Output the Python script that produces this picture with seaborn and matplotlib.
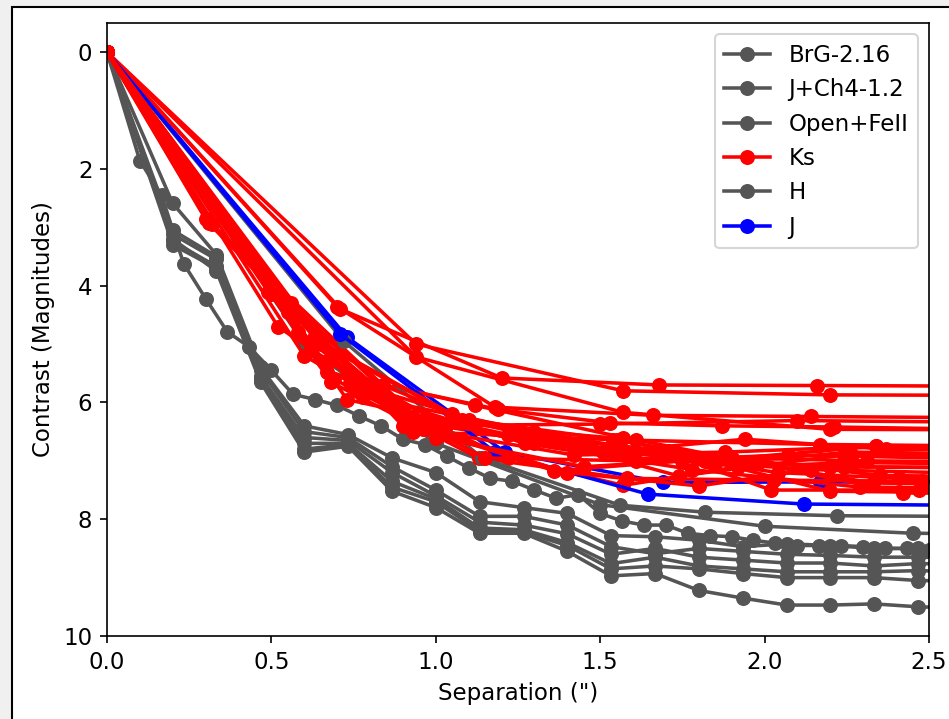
import matplotlib
matplotlib.use("Agg")
import matplotlib.pyplot as plt
import matplotlib.patches as mpatches
from matplotlib.lines import Line2D
import seaborn as sns
import pandas as pd

GRAY = "#555555"
RED = "#ff0000"
BLUE = "#0000ff"

# ---- data ----------------------------------------------------------------
# Gray lines on the 0.133" grid (H filter)
h_x = [0, 0.2, 0.333, 0.467, 0.6, 0.733, 0.867, 1.0, 1.133, 1.267, 1.4, 1.533,
       1.667, 1.8, 1.933, 2.067, 2.2, 2.333, 2.467, 2.6]
h1_y = [0, 2.59, 3.47, 5.40, 6.40, 6.55, 6.95, 7.20, 7.70, 7.80, 7.90, 8.28, 8.30, 8.36, 8.47, 8.42, 8.45, 8.50, 8.50, 8.52]
h2_y = [0, 3.05, 3.50, 5.45, 6.50, 6.60, 7.10, 7.50, 7.95, 7.95, 8.10, 8.47, 8.59, 8.50, 8.55, 8.60, 8.62, 8.65, 8.65, 8.66]
h3_y = [0, 3.12, 3.55, 5.55, 6.60, 6.65, 7.20, 7.60, 8.05, 8.10, 8.25, 8.60, 8.50, 8.65, 8.70, 8.75, 8.75, 8.80, 8.76, 8.77]
h4_y = [0, 3.24, 3.67, 5.60, 6.70, 6.70, 7.35, 7.65, 8.15, 8.18, 8.40, 8.76, 8.65, 8.80, 8.85, 8.90, 8.90, 8.90, 8.88, 8.90]
h5_y = [0, 3.30, 3.70, 5.62, 6.80, 6.72, 7.45, 7.70, 8.20, 8.22, 8.45, 8.85, 8.80, 8.85, 8.93, 9.00, 9.00, 9.00, 9.05, 9.06]
h6_y = [0, 3.20, 3.75, 5.65, 6.85, 6.75, 7.52, 7.80, 8.24, 8.24, 8.55, 8.97, 8.93, 9.22, 9.35, 9.47, 9.47, 9.45, 9.50, 9.52]

# Finely sampled gray line (Open+FeII)
fine_x = [0, 0.1, 0.166, 0.233, 0.3, 0.366, 0.433, 0.5, 0.566, 0.633, 0.7, 0.766, 0.833,
          0.9, 0.966, 1.033, 1.1, 1.166, 1.233, 1.3, 1.366, 1.433, 1.5, 1.566, 1.633,
          1.7, 1.766, 1.833, 1.9, 1.966, 2.033, 2.1, 2.166, 2.233, 2.3, 2.366, 2.433,
          2.5, 2.566]
fine_y = [0, 1.86, 2.45, 3.62, 4.22, 4.79, 5.05, 5.45, 5.86, 5.95, 6.05, 6.23, 6.40,
          6.63, 6.72, 6.92, 7.12, 7.30, 7.35, 7.50, 7.64, 7.58, 7.90, 8.03, 8.10,
          8.10, 8.24, 8.28, 8.30, 8.36, 8.41, 8.45, 8.45, 8.45, 8.47, 8.50, 8.50,
          8.53, 8.55]

# Sparse gray lines (BrG-2.16, J+Ch4-1.2)
brg_x = [0, 0.6, 1.0, 1.5, 2.0, 2.45, 2.9]
brg_y = [0, 5.0, 6.7, 7.75, 8.12, 8.24, 8.26]
jch4_x = [0, 0.72, 1.14, 1.56, 1.82, 2.22, 2.9]
jch4_y = [0, 4.95, 6.95, 7.76, 7.88, 7.94, 7.96]

# Ks (red) lines
ks_x = [
    [0, 0.71, 1.20, 1.68, 2.16, 2.64],
    [0, 0.94, 1.57, 2.20, 2.83],
    [0, 0.94, 1.57, 2.20, 2.83],
    [0, 0.70, 1.18, 1.66, 2.14, 2.62],
    [0, 0.30, 0.90, 1.50, 2.10, 2.70],
    [0, 0.31, 0.93, 1.55, 2.17, 2.79],
    [0, 0.49, 0.84, 1.19, 1.53, 1.87, 2.21, 2.56],
    [0, 0.53, 0.89, 1.25, 1.61, 1.97, 2.33, 2.69],
    [0, 0.52, 0.87, 1.22, 1.57, 1.92, 2.27, 2.62],
    [0, 0.67, 1.12, 1.57, 2.02, 2.47, 2.92],
    [0, 0.68, 1.13, 1.58, 2.03, 2.48, 2.93],
    [0, 0.32, 0.96, 1.60, 2.24, 2.88],
    [0, 0.56, 0.93, 1.30, 1.67, 2.04, 2.41, 2.78],
]
ks_y = [
    [0, 4.40, 5.58, 5.70, 5.71, 5.72],
    [0, 5.00, 5.80, 5.87, 5.88],
    [0, 5.22, 6.17, 6.46, 6.47],
    [0, 4.36, 6.08, 6.22, 6.24, 6.26],
    [0, 2.86, 6.40, 6.37, 6.31, 6.34],
    [0, 2.93, 6.50, 6.64, 6.72, 6.75],
    [0, 4.10, 5.70, 6.12, 6.35, 6.40, 6.42, 6.45],
    [0, 4.22, 6.20, 6.47, 6.64, 7.04, 7.38, 7.40],
    [0, 4.70, 6.05, 6.95, 7.42, 7.10, 7.03, 7.05],
    [0, 5.48, 6.05, 6.60, 7.50, 7.50, 7.52],
    [0, 5.65, 6.95, 7.30, 7.33, 7.35, 7.36],
    [0, 2.95, 6.35, 6.95, 7.10, 7.12],
    [0, 4.30, 6.25, 6.70, 6.90, 7.20, 7.30, 7.32],
]
ks2_x = [
    [0, 0.73, 1.22, 1.71, 2.20, 2.69],
    [0, 0.74, 1.24, 1.74, 2.24, 2.74],
    [0, 0.60, 1.00, 1.40, 1.80, 2.20, 2.60],
    [0, 0.78, 1.30, 1.82, 2.34, 2.86],
    [0, 0.66, 1.10, 1.54, 1.98, 2.42, 2.86],
    [0, 0.63, 1.05, 1.47, 1.89, 2.31, 2.73],
    [0, 0.58, 0.97, 1.36, 1.75, 2.14, 2.53],
    [0, 0.65, 1.08, 1.51, 1.94, 2.37, 2.80],
    [0, 0.69, 1.15, 1.61, 2.07, 2.53],
    [0, 0.50, 0.96, 1.42, 1.88, 2.34, 2.80],
    [0, 0.55, 1.00, 1.45, 1.90, 2.35, 2.80],
    [0, 0.62, 1.03, 1.44, 1.85, 2.26, 2.67],
    [0, 0.76, 1.27, 1.78, 2.29, 2.80],
]
ks2_y = [
    [0, 5.95, 6.55, 6.83, 7.52, 7.55],
    [0, 5.66, 6.50, 7.26, 6.90, 6.92],
    [0, 5.20, 6.50, 7.20, 7.43, 7.10, 7.12],
    [0, 5.90, 6.50, 7.00, 6.75, 6.78],
    [0, 5.30, 6.30, 6.64, 7.04, 7.55, 7.56],
    [0, 4.90, 6.20, 6.75, 6.95, 7.00, 7.02],
    [0, 4.80, 6.46, 7.17, 7.00, 7.15, 7.20],
    [0, 5.00, 6.30, 6.85, 6.63, 6.80, 6.82],
    [0, 5.60, 6.95, 7.00, 6.90, 6.95],
    [0, 4.15, 6.46, 6.90, 6.85, 6.75, 6.80],
    [0, 4.45, 6.60, 7.10, 6.95, 7.25, 7.28],
    [0, 5.10, 6.40, 6.75, 7.05, 6.85, 6.88],
    [0, 5.80, 6.70, 7.15, 7.45, 7.47],
]

# J (blue) lines
j1_x = [0, 0.71, 1.18, 1.645, 2.12, 2.59]
j1_y = [0, 4.83, 6.85, 7.57, 7.74, 7.76]
j2_x = [0, 0.73, 1.21, 1.69, 2.17, 2.65]
j2_y = [0, 4.88, 6.85, 7.37, 7.36, 7.37]

legend_labels = ["BrG-2.16", "J+Ch4-1.2", "Open+FeII", "Ks", "H", "J"]
legend_colors = [GRAY, GRAY, GRAY, RED, GRAY, BLUE]

# ---- figure ----------------------------------------------------------------
plt.rcParams["font.size"] = 11
W, H, DPI = 949, 719, 150
fig = plt.figure(figsize=(W / DPI, H / DPI), dpi=DPI, facecolor="#f0f0f0")
frame = mpatches.Rectangle((12 / W, -0.5), 2.0, 0.5 + 1 - 7 / H,
                           transform=fig.transFigure, facecolor="white",
                           edgecolor="black", lw=1.0, zorder=-10)
fig.patches.append(frame)

ax = fig.add_axes([107 / W, 1 - 636 / H, (929 - 107) / W, (636 - 23) / H])
ax.set_facecolor("white")

LW, MS = 1.7, 7.2
line_kw = dict(marker="o", markersize=MS, markeredgewidth=0, linewidth=LW,
               estimator=None, sort=False, legend=False, ax=ax)


def draw(xs, ys, color):
    df = pd.DataFrame({"x": xs, "y": ys})
    sns.lineplot(data=df, x="x", y="y", color=color, **line_kw)


draw(brg_x, brg_y, GRAY)
draw(fine_x, fine_y, GRAY)
for ys in [h1_y, h2_y, h3_y, h4_y, h5_y, h6_y]:
    draw(h_x, ys, GRAY)
draw(j2_x, j2_y, BLUE)
for xs, ys in zip(ks_x, ks_y):
    draw(xs, ys, RED)
draw(jch4_x, jch4_y, GRAY)
draw(j1_x, j1_y, BLUE)
for xs, ys in zip(ks2_x, ks2_y):
    draw(xs, ys, RED)

ax.set_xlim(0, 2.5)
ax.set_ylim(10, -0.5)
ax.set_xticks([0.0, 0.5, 1.0, 1.5, 2.0, 2.5])
ax.set_yticks([0, 2, 4, 6, 8, 10])
ax.tick_params(labelsize=11)
ax.set_xlabel('Separation (")', fontsize=11)
ax.set_ylabel("Contrast (Magnitudes)", fontsize=11)

handles = [Line2D([], [], color=c, marker="o", markersize=MS, markeredgewidth=0,
                  linewidth=LW) for c in legend_colors]
ax.legend(handles, legend_labels, loc="upper right", fontsize=11)

fig.savefig("out.png", dpi=DPI, facecolor=fig.get_facecolor())
